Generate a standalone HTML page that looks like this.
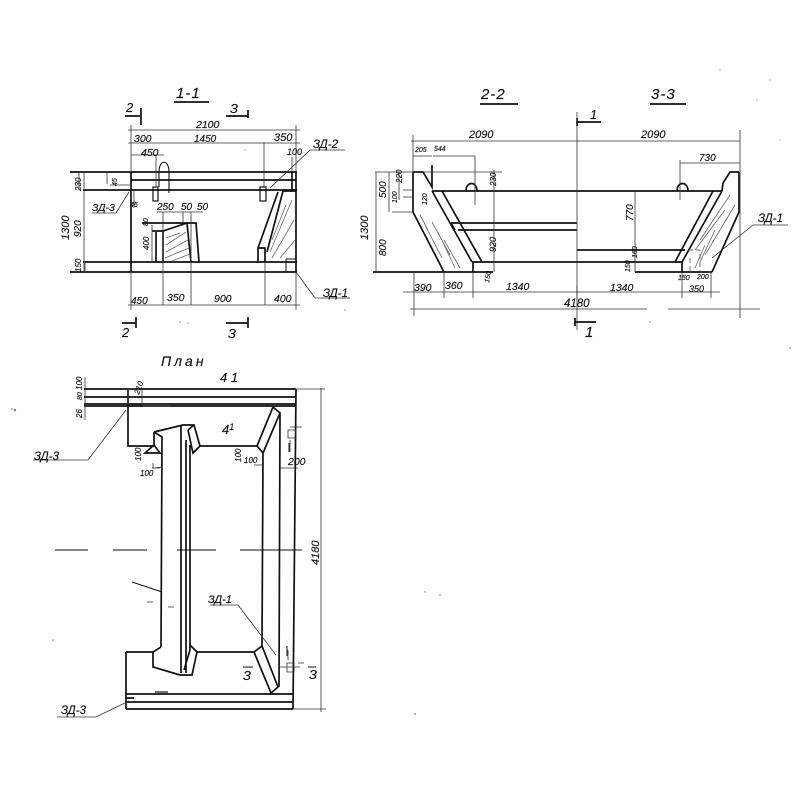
<!DOCTYPE html>
<html><head><meta charset="utf-8"><style>
html,body{margin:0;padding:0;background:#fff;width:800px;height:800px;overflow:hidden}
svg{display:block;filter:blur(.35px)}
text{font-family:"Liberation Sans",sans-serif;font-style:italic;fill:#111;font-size:11px;stroke:#111;stroke-width:.15}
.l{fill:none;stroke:#111;stroke-width:1.7}
.d{fill:none;stroke:#333;stroke-width:.8}
.t{fill:none;stroke:#444;stroke-width:.7;stroke-dasharray:5 3}
.h{fill:none;stroke:#666;stroke-width:.8}
.s{font-size:8px}.x{font-size:7px}
.b{font-size:15px;letter-spacing:1px}
</style></head><body>
<svg width="800" height="800" viewBox="0 0 800 800" xmlns="http://www.w3.org/2000/svg">
<rect width="800" height="800" fill="#fff"/>
<!-- 1-1 -->
<g>
<text x="176" y="98" class="b">1-1</text><path class="l" d="M174 102h35"/>
<text x="126" y="112" style="font-size:13px">2</text><path class="l" d="M125 116h15M141 108v17"/>
<text x="230" y="113" style="font-size:13px">З</text><path class="l" d="M226 116h22M248 110v8"/>
<path class="l" d="M70 172H297M131 180H296M83 190H297M131 172V272M296 172V272M83 262H297M70 272H297"/>
<path class="l" d="M159 187V172C159 159 169 159 169 172V193" style="stroke-width:1.1"/>
<rect class="l" x="153" y="187" width="5" height="14" style="stroke-width:1.2"/><rect class="l" x="260" y="187" width="6" height="14" fill="#888" style="stroke-width:1.2"/>
<path class="l" d="M292 172V190M278 192L258 248V262M258 248H265V262M283 191H296M283 191L267 252"/>
<path class="h" d="M286 205L272 240M292 200L270 252M294 220L272 258M295 240L280 258"/>
<path class="l" d="M142 223H196L199 262M156 232V262M163 230V262M152 231H163L187 223L191 262"/>
<path class="h" d="M166 245L186 232M166 252L188 240M165 258L189 248M172 261L190 254M166 238L180 233"/>
<path class="l" d="M286 259H296M286 259V272" style="stroke-width:1"/>
<path class="d" d="M128 130H300M131 125V172M296 125V172M128 143H300M131 155H164M156 155V187M264 142V187M292 157V172"/>
<path class="d" d="M157 212H203M152 225V262M85 262V272"/>
<path class="d" d="M128 305H300M131 272V310M163 212V305M183 212V223M191 212V305M265 262V305M296 272V310"/>
<path class="d" d="M84 172V272M79 172V190M107 172V184M110 185H131M134 190V208"/>
<path class="d" d="M129 192L116 213H92M270 188L310 150H345M296 272L315 298H350"/>
<text x="196" y="128" style="font-size:10.5px">2100</text>
<text x="134" y="142" style="font-size:10.5px">300</text><text x="194" y="142" style="font-size:10px">1450</text><text x="274" y="141" style="font-size:11px">350</text>
<text x="141" y="156" style="font-size:10.5px">450</text><text x="287" y="155" style="font-size:9px">100</text>
<text x="313" y="148" style="font-size:11.5px">ЗД-2</text><text x="92" y="211" style="font-size:10.5px">ЗД-3</text>
<text x="323" y="297" style="font-size:11.5px">ЗД-1</text>
<text x="157" y="210" style="font-size:10px">250</text><text x="181" y="210" style="font-size:10px">50</text><text x="197" y="210" style="font-size:10px">50</text>
<text x="131" y="304" style="font-size:10px">450</text><text x="167" y="301" style="font-size:10.5px">350</text><text x="214" y="302" style="font-size:10.5px">900</text><text x="274" y="302" style="font-size:10.5px">400</text>
<text x="130" y="207" class="x">45</text>
<text transform="translate(81 191) rotate(-90)" class="s">230</text>
<text transform="translate(117 186) rotate(-90)" class="x">45</text>
<text transform="translate(81 237) rotate(-90)" style="font-size:10px">920</text>
<text transform="translate(81 272) rotate(-90)" class="s">150</text>
<text transform="translate(69 240) rotate(-90)" style="font-size:11px">1300</text>
<text transform="translate(149 250) rotate(-90)" class="s">400</text><text transform="translate(148 226) rotate(-90)" class="x">80</text>
<text x="122" y="337" style="font-size:13px">2</text><path class="l" d="M122 323H136M136 317V328"/>
<text x="228" y="338" style="font-size:13px">З</text><path class="l" d="M226 323H248M248 317V328"/>
</g>
<!-- 2-2 / 3-3 -->
<g>
<text x="481" y="99" class="b">2-2</text><path class="l" d="M480 104h38"/>
<text x="651" y="99" class="b">3-3</text><path class="l" d="M650 104h36"/>
<text x="590" y="119" style="font-size:13px">1</text><path class="l" d="M577 122h24M577 118v8"/>
<text x="585" y="337" style="font-size:15px">1</text><path class="l" d="M574 322h22M575 318v8"/>
<path class="l" d="M432 191H722M472 262H682M413 172H423L432 187V165M413 172V212L444 272M373 272H493M432 191L472 262M442 191L482 262M473 262V272M451 223H577M458 230H577M455 230L451 223M577 250H685"/>
<path class="l" d="M722 191L682 262M713 191L675 262M739 172H730L723 183L722 191M739 172V212L712 272M635 272H712M682 262V272"/>
<path class="l" d="M466 191C466 181 477 181 477 191M677 191C677 181 688 181 688 191"/>
<path class="d" d="M577 112V330"/>
<path class="h" d="M420 215L428 230M425 225L442 258M432 222L450 255M438 232L455 268M444 240L460 268M730 195L700 240M735 205L705 255M725 210L695 250M715 230L700 262M705 245L695 268"/>
<path class="t" d="M688 250H700V272M690 258V272"/>
<path class="d" d="M411 141H740M413 135V172M740 130V318M413 156H432M433 156H475M475 156V205M494 170V272M680 163H740M680 160V200"/>
<path class="d" d="M375 172H502M376 172V272M389 172V212M392 212H413M399 172V200M403 190H413M403 197H413"/>
<path class="d" d="M403 292H720M414 272V316M444 272V298M473 272V298M577 285V300M682 272V298M711 272V298M410 309H647M668 309H760M635 191V272"/>
<path class="d" d="M788 225H753L712 258"/>
<text x="469" y="138" style="font-size:11px">2090</text><text x="641" y="138" style="font-size:11px">2090</text>
<text x="415" y="152" class="x">205</text><text x="434" y="151" class="x">544</text>
<text x="699" y="161" style="font-size:10px">730</text>
<text x="414" y="291" style="font-size:10.5px">390</text><text x="445" y="289" style="font-size:10.5px">360</text><text x="506" y="290" style="font-size:10.5px">1340</text><text x="610" y="291" style="font-size:10.5px">1340</text>
<text x="564" y="307" style="font-size:11.5px">4180</text><text x="689" y="292" style="font-size:9px">350</text>
<text x="678" y="280" class="x">150</text><text x="697" y="279" class="x">200</text>
<text x="758" y="222" style="font-size:11.5px">ЗД-1</text>
<text transform="translate(368 240) rotate(-90)" style="font-size:11px">1300</text>
<text transform="translate(386 198) rotate(-90)" style="font-size:10px">500</text>
<text transform="translate(386 256) rotate(-90)" style="font-size:10px">800</text>
<text transform="translate(397 203) rotate(-90)" class="x">100</text>
<text transform="translate(402 183) rotate(-90)" class="s">220</text>
<text transform="translate(427 205) rotate(-90)" class="x">120</text>
<text transform="translate(496 186) rotate(-90)" class="s">230</text>
<text transform="translate(496 252) rotate(-90)" style="font-size:9px">920</text>
<text transform="translate(489 283) rotate(-80)" class="x">150</text>
<text transform="translate(633 221) rotate(-90)" style="font-size:10px">770</text>
<text transform="translate(637 258) rotate(-90)" class="x">160</text>
<text transform="translate(630 272) rotate(-90)" class="x">150</text>
</g>
<!-- plan -->
<g>
<text x="161" y="366" style="font-size:14px;letter-spacing:3px">План</text>
<text x="220" y="382" style="font-size:13px">4 1</text><text x="222" y="434" style="font-size:13px">4<tspan dy="-4" font-size="9">1</tspan></text>
<path class="l" d="M84 389H296M84 397H296M84 404H296M84 406H296M296 389L293 709"/>
<path class="l" d="M128 389V446H154"/>
<path class="l" d="M154 432L183 425H194L200 446H257L273 407L280 413L263 453M257 446L263 453L262 646M280 413L279 687"/>
<path class="l" d="M154 432L162 437L161 647M154 432V445L145 453H160L154 445"/>
<path class="l" d="M181 425V673M186 440V673M190 445V650M188 430L194 425M188 430L193 453L200 446"/>
<path class="l" d="M126 652H153L161 647M126 652V709M153 652V667L180 675H192L197 652M190 645L197 652M184 670L190 650"/>
<path class="l" d="M197 652H254L262 646L278 687L271 693L254 652M126 694H293M126 702H293M126 709H293M126 698H134"/>
<path class="l" d="M155 692H168" style="stroke-width:1.2"/>
<path class="d" d="M85 377V420M321 388V712M295 389H325M293 709H326M143 406H170"/>
<path class="d" d="M128 389H142V405H128V389Z"/>
<path class="d" d="M126 410L88 460H33M129 701L96 717H57"/>
<path class="d" d="M238 605L276 655M210 605H238M153 463V468L163 467M160 468H152M264 465H254M280 468H298M290 427H302M288 430H296V438H288ZM290 440V452M288 660V650M278 667H300M287 663H294V672H287ZM298 663H304"/>
<path class="l" d="M55 550H88M113 550H147M177 550H216M240 550H302" style="stroke-width:1.1"/>
<path class="l" d="M132 582L162 592" style="stroke-width:1"/>
<path class="d" d="M147 602H153M168 607H174"/>
<text x="34" y="460" style="font-size:11.5px">ЗД-3</text><text x="61" y="714" style="font-size:11.5px">ЗД-3</text>
<text x="208" y="603" style="font-size:11px">ЗД-1</text><text x="288" y="465" style="font-size:10.5px">200</text>
<text x="140" y="476" class="s">100</text><text x="244" y="463" class="s">100</text>
<text transform="translate(141 461) rotate(-90)" class="s">100</text><text transform="translate(241 462) rotate(-90)" class="s">100</text>
<text transform="translate(82 390) rotate(-90)" class="s">100</text><text transform="translate(82 400) rotate(-90)" class="x">80</text><text transform="translate(82 418) rotate(-90)" class="s">26</text>
<text transform="translate(139 395) rotate(-70)" class="s">210</text>
<text transform="translate(319 565) rotate(-90)" style="font-size:11px">4180</text>
<text x="243" y="680" style="font-size:13px">З</text><text x="309" y="679" style="font-size:13px">З</text>
<path class="l" d="M243 667H253M308 667H316M289 443V452M287 646V656" style="stroke-width:1"/>
</g>
<!-- specks -->
<g fill="#777">
<circle cx="15" cy="410" r="1.2"/><circle cx="12" cy="409" r=".8"/><circle cx="53" cy="640" r=".8"/><circle cx="440" cy="595" r=".8"/>
<circle cx="425" cy="592" r=".7"/><circle cx="415" cy="714" r=".9"/><circle cx="757" cy="100" r=".6"/><circle cx="780" cy="140" r=".6"/>
<circle cx="345" cy="310" r=".7"/><circle cx="245" cy="150" r=".6"/><circle cx="790" cy="348" r=".8"/><circle cx="720" cy="70" r=".6"/>
<circle cx="180" cy="322" r=".7"/><circle cx="188" cy="323" r=".6"/><circle cx="770" cy="80" r=".6"/><circle cx="650" cy="322" r=".7"/>
</g>
</svg>
</body></html>
